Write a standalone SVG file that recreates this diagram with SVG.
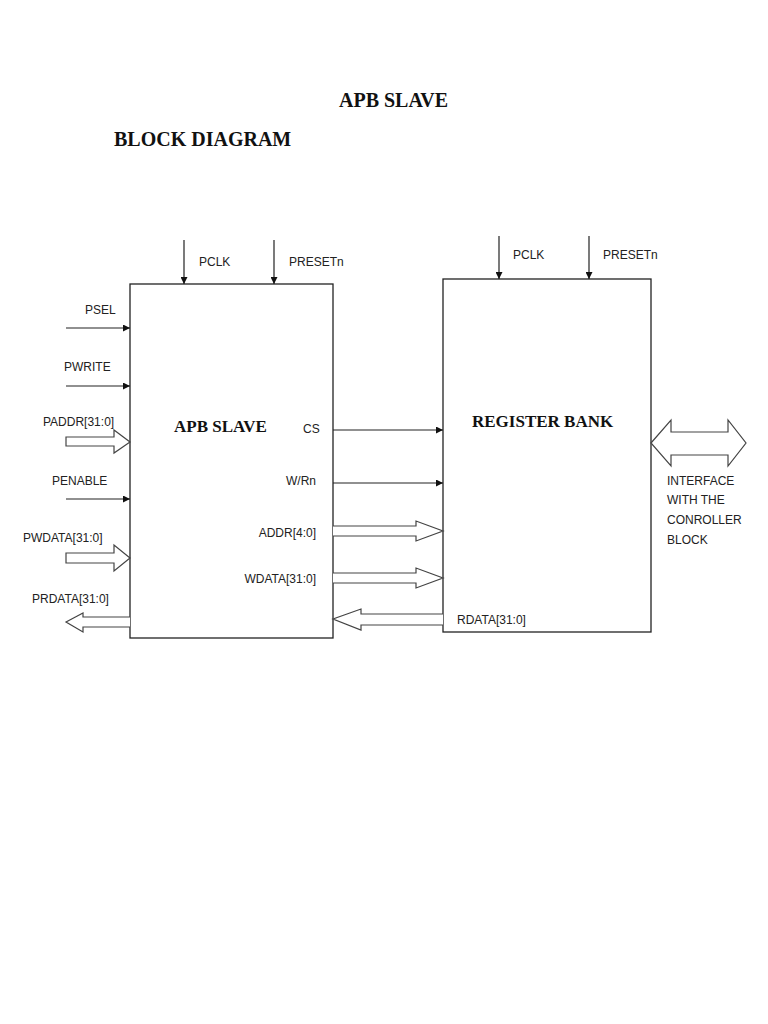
<svg xmlns="http://www.w3.org/2000/svg" width="768" height="1024" viewBox="0 0 768 1024">
<style>
.box{fill:#fff;stroke:#222;stroke-width:1.3}
.ln{stroke:#222;stroke-width:1.2;fill:none}
.bus{fill:#fff;stroke:#444;stroke-width:1.2;stroke-linejoin:miter}
.lbl{font-family:"Liberation Sans",Arial,sans-serif;font-size:12px;fill:#222}
.ttl{font-family:"Liberation Serif","Times New Roman",serif;font-weight:bold;fill:#111}
</style>
<defs>
<marker id="ah" viewBox="0 0 10 10" refX="10" refY="5" markerWidth="9" markerHeight="7" markerUnits="userSpaceOnUse" orient="auto">
<path d="M0,0 L10,5 L0,10 Z" fill="#111"/>
</marker>
</defs>
<rect width="768" height="1024" fill="#fff"/>
<text class="ttl" x="339" y="107" font-size="20">APB SLAVE</text>
<text class="ttl" x="114" y="146" font-size="20">BLOCK DIAGRAM</text>

<g id="apb_slave">
<rect class="box" x="130" y="284" width="203" height="354"/>
<text class="ttl" x="174" y="432" font-size="17">APB SLAVE</text>
<text class="lbl" x="303" y="433">CS</text>
<text class="lbl" x="316" y="485" text-anchor="end">W/Rn</text>
<text class="lbl" x="316" y="537" text-anchor="end">ADDR[4:0]</text>
<text class="lbl" x="316" y="583" text-anchor="end">WDATA[31:0]</text>
</g>

<g id="register_bank">
<rect class="box" x="443" y="279" width="208" height="353"/>
<text class="ttl" x="472" y="427" font-size="17">REGISTER BANK</text>
<text class="lbl" x="457" y="624">RDATA[31:0]</text>
</g>

<g id="labels">
<text class="lbl" x="199" y="266">PCLK</text>
<text class="lbl" x="289" y="266">PRESETn</text>
<text class="lbl" x="513" y="259">PCLK</text>
<text class="lbl" x="603" y="259">PRESETn</text>
<text class="lbl" x="85" y="314">PSEL</text>
<text class="lbl" x="64" y="371">PWRITE</text>
<text class="lbl" x="43" y="426">PADDR[31:0]</text>
<text class="lbl" x="52" y="485">PENABLE</text>
<text class="lbl" x="23" y="542">PWDATA[31:0]</text>
<text class="lbl" x="32" y="603">PRDATA[31:0]</text>
<text class="lbl" x="667" y="485">INTERFACE</text>
<text class="lbl" x="667" y="504">WITH THE</text>
<text class="lbl" x="667" y="524">CONROLLER</text>
<text class="lbl" x="667" y="544">BLOCK</text>
</g>

<g id="connectors">
<line class="ln" x1="184" y1="240" x2="184" y2="284" marker-end="url(#ah)"/>
<line class="ln" x1="274" y1="240" x2="274" y2="284" marker-end="url(#ah)"/>
<line class="ln" x1="499" y1="236" x2="499" y2="279" marker-end="url(#ah)"/>
<line class="ln" x1="589" y1="236" x2="589" y2="279" marker-end="url(#ah)"/>
<line class="ln" x1="66" y1="328" x2="130" y2="328" marker-end="url(#ah)"/>
<line class="ln" x1="66" y1="386" x2="130" y2="386" marker-end="url(#ah)"/>
<line class="ln" x1="66" y1="499" x2="130" y2="499" marker-end="url(#ah)"/>
<line class="ln" x1="333" y1="430" x2="443" y2="430" marker-end="url(#ah)"/>
<line class="ln" x1="333" y1="483" x2="443" y2="483" marker-end="url(#ah)"/>
<path class="bus" d="M66,437 L114,437 L114,430 L130,442 L114,453 L114,446 L66,446 Z"/>
<path class="bus" d="M66,553 L114,553 L114,545 L130,558 L114,571 L114,563 L66,563 Z"/>
<path class="bus" d="M130,617 L83,617 L83,613 L66,622 L83,632 L83,627 L130,627"/>
<path class="bus" d="M333,526 L416,526 L416,521 L443,531 L416,541 L416,536 L333,536"/>
<path class="bus" d="M333,573 L416,573 L416,568 L443,578 L416,588 L416,583 L333,583"/>
<path class="bus" d="M443,614 L361,614 L361,609 L333,619 L361,630 L361,625 L443,625"/>
<path class="bus" d="M651,443 L671,420 L671,432 L728,432 L728,420 L746,443 L728,466 L728,455 L671,455 L671,466 Z"/>
</g>
</svg>
